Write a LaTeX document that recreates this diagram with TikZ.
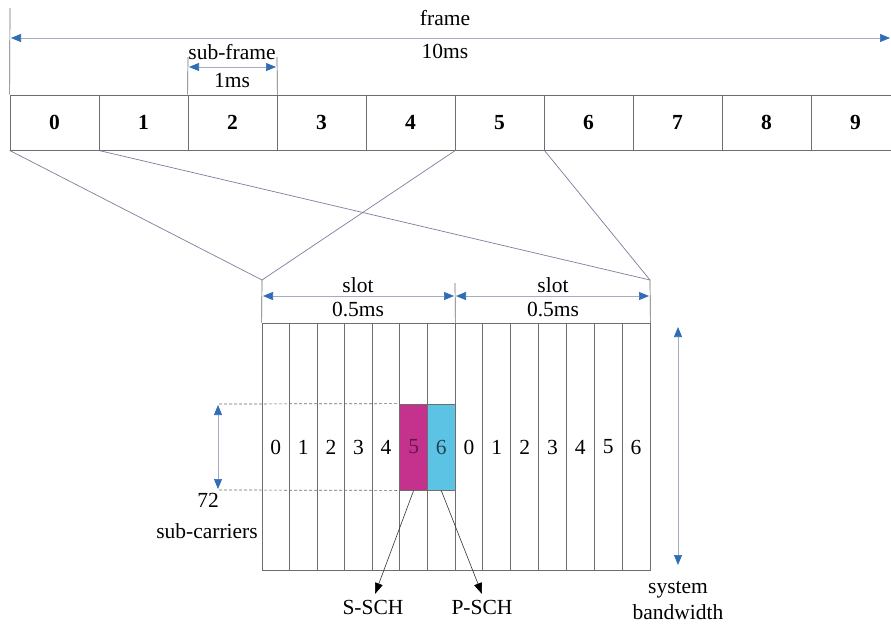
\documentclass[tikz,border=0pt]{standalone}
\usepackage{fontspec}
\setmainfont{Liberation Serif}
\usetikzlibrary{arrows.meta}
\definecolor{tipblue}{HTML}{2F6DB5}
\definecolor{gline}{HTML}{6E6E6E}
\definecolor{lline}{HTML}{A4ACC0}
\definecolor{vline}{HTML}{7C7F9C}
\definecolor{mag}{HTML}{C4328E}
\definecolor{cya}{HTML}{5DC3E5}
\begin{document}
\begin{tikzpicture}[x=1pt,y=-1pt,
  font=\fontsize{21.5}{23}\selectfont,
  cellbox/.style={draw=gline, line width=0.8pt, minimum width=89pt, minimum height=55pt, inner sep=0pt, font=\fontsize{21.5}{23}\selectfont\bfseries},
  colbox/.style={draw=gline, line width=0.8pt, minimum height=247pt, inner sep=0pt},
  hilite/.style={draw=gline, line width=0.8pt, minimum width=27.571pt, minimum height=86pt, inner sep=0pt},
  lbl/.style={inner sep=0pt},
  thin/.style={draw=gline, line width=0.7pt},
  fanline/.style={draw=vline, line width=0.7pt},
  dimarrow/.style={draw=lline, line width=0.7pt,
    arrows={Triangle[length=10pt,width=8pt,color=tipblue]-Triangle[length=10pt,width=8pt,color=tipblue]}},
  blkarrow/.style={draw=black!80, line width=0.6pt, arrows={-Triangle[length=11pt,width=8pt,color=black]}}
]
\useasboundingbox (0,0) rectangle (891,624);
\fill[white] (0,0) rectangle (891,624);

% top row of sub-frames
\foreach \i in {0,...,9}
  \node[cellbox] (c\i) at ({54.5+89*\i},122.5) {\i};

% frame dimension
\coordinate (ftop) at (10,8);
\draw[thin] (ftop) -- (c0.north west);
\coordinate (fl) at (11,38);
\coordinate (fr) at (890,38);
\draw[dimarrow] (fl) -- (fr);
\node[lbl] (tframe) at (445,18) {frame};
\node[lbl] (t10ms) at (445,51) {10ms};

% sub-frame dimension
\coordinate (sfa) at (188,57);
\coordinate (sfb) at (277,57);
\draw[thin] (sfa) -- (c2.north west);
\draw[thin] (sfb) -- (c2.north east);
\coordinate (sfl) at (189,67);
\coordinate (sfr) at (276,67);
\draw[dimarrow] (sfl) -- (sfr);
\node[lbl] (tsub) at (232,52) {sub-frame};
\node[lbl] (t1ms) at (232,81) {1ms};

% slot grid
\foreach \i in {0,...,6}
  \node[colbox, minimum width=27.571pt] (a\i) at ({262+27.571*(\i+0.5)},446.5) {};
\foreach \i in {0,...,6}
  \node[colbox, minimum width=27.857pt] (b\i) at ({455+27.857*(\i+0.5)},446.5) {};

% highlighted symbols
\node[hilite, fill=mag] (s5) at ({262+27.571*5.5},447) {};
\node[hilite, fill=cya] (s6) at ({262+27.571*6.5},447) {};

% symbol numbers
\foreach \i in {0,...,4}
  \node[lbl] (na\i) at ({262+27.571*(\i+0.5)},447) {\i};
\node[lbl, text=mag!50!black] (na5) at (s5.center) {5};
\node[lbl, text=cya!35!black] (na6) at (s6.center) {6};
\foreach \i in {0,...,6}
  \node[lbl] (nb\i) at ({455+27.857*(\i+0.5)},447) {\i};

% fan lines from frame to sub-frame zoom
\coordinate (L) at (262,280);
\coordinate (R) at (650,280);
\draw[fanline] (c0.south west) -- (L);
\draw[fanline] (c4.south east) -- (L);
\draw[fanline] (c1.south west) -- (R);
\draw[fanline] (c5.south east) -- (R);
\draw[thin] (L) -- (a0.north west);
\draw[thin] (R) -- (b6.north east);
\coordinate (mid) at (455,283);
\draw[thin] (mid) -- (a6.north east);

% slot dimensions
\coordinate (sl1) at (263,296);
\coordinate (sl2) at (454,296);
\coordinate (sr1) at (456,296);
\coordinate (sr2) at (649,296);
\draw[dimarrow] (sl1) -- (sl2);
\draw[dimarrow] (sr1) -- (sr2);
\node[lbl] (tslotl) at (358,285) {slot};
\node[lbl] (tmsl) at (358,309) {0.5ms};
\node[lbl] (tslotr) at (553,285) {slot};
\node[lbl] (tmsr) at (553,309) {0.5ms};

% 72 sub-carriers
\coordinate (dt) at (219,404);
\coordinate (db) at (219,490);
\draw[thin, densely dashed] (dt) -- (s5.north west);
\draw[thin, densely dashed] (db) -- (s5.south west);
\coordinate (ut) at (218,405);
\coordinate (ub) at (218,489);
\draw[dimarrow] (ut) -- (ub);
\node[lbl] (t72) at (208,500) {72};
\node[lbl] (tsc) at (207,531) {sub-carriers};

% system bandwidth
\coordinate (bwt) at (678,327);
\coordinate (bwb) at (678,565);
\draw[dimarrow] (bwt) -- (bwb);
\node[lbl] (tsys) at (678,590) {system};
\node[lbl] (tbw) at (678,612) {bandwidth};

% S-SCH / P-SCH
\node[lbl] (tssch) at (373,607) {S-SCH};
\node[lbl] (tpsch) at (482,607) {P-SCH};
\coordinate (sst) at (375,594);
\coordinate (pst) at (482,594);
\draw[blkarrow] (s5.south) -- (sst);
\draw[blkarrow] (s6.south) -- (pst);
\end{tikzpicture}
\end{document}
